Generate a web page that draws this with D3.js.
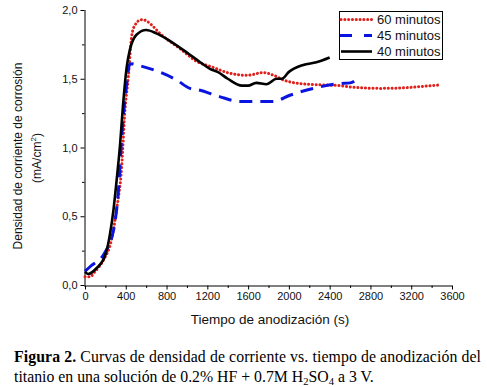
<!DOCTYPE html>
<html><head><meta charset="utf-8">
<script src="https://cdn.jsdelivr.net/npm/d3@7"></script>
<style>body{margin:0;background:#fff}svg{display:block}</style>
</head><body>
<svg id="c" width="487" height="387"></svg>
<script>
const seriesNames = ["60 minutos", "45 minutos", "40 minutos"];
const time60 = [0,50,100,180,260,310,360,392,425,458,490,555,605,655,735,930,1110,1230,1420,1590,1750,1850,1950,2110,2340,2500,2600,2900,3150,3350,3480];
const v60 = [0.06,0.06,0.10,0.18,0.33,0.55,0.86,1.27,1.51,1.81,1.89,1.93,1.92,1.89,1.83,1.72,1.62,1.59,1.54,1.525,1.545,1.525,1.49,1.465,1.455,1.45,1.44,1.43,1.435,1.447,1.455];
const time45 = [0,30,60,190,280,330,360,410,440,560,900,1030,1110,1320,1520,1850,2010,2240,2500,2600,2700];
const v45 = [0.10,0.12,0.14,0.23,0.40,0.71,1.08,1.47,1.61,1.59,1.49,1.43,1.42,1.37,1.335,1.335,1.38,1.43,1.465,1.47,1.52];
const time40 = [0,30,110,200,245,280,310,345,370,410,440,505,600,700,800,1000,1130,1230,1300,1400,1540,1600,1680,1780,1880,1930,2000,2140,2270,2400];
const v40 = [0.095,0.08,0.12,0.22,0.37,0.55,0.76,1.03,1.28,1.59,1.71,1.82,1.855,1.83,1.79,1.69,1.62,1.57,1.55,1.50,1.45,1.45,1.47,1.46,1.50,1.50,1.55,1.60,1.62,1.655];
const xTicks = [0,400,800,1200,1600,2000,2400,2800,3200,3600];
const yTicks = [0,0.5,1.0,1.5,2.0];
const xLabel = "Tiempo de anodización (s)";
const yLabel1 = "Densidad de corriente de corrosión";

const svg = d3.select("#c");
const x = d3.scaleLinear().domain([0,3600]).range([85,452]);
const y = d3.scaleLinear().domain([0,2]).range([285,10]);
const sans = "Liberation Sans, Arial, sans-serif";
const serif = "'Liberation Serif', 'Times New Roman', serif";

// axes
const xAxis = svg.append("g").attr("transform","translate(0,285.5)")
  .call(d3.axisBottom(x).tickValues(xTicks).tickSize(4).tickPadding(3).tickFormat(d3.format("d")));
const xMin = svg.append("g").attr("transform","translate(0,285.5)")
  .call(d3.axisBottom(x).tickValues(d3.range(200,3600,400)).tickSize(2.5).tickFormat(""));
const yAxis = svg.append("g").attr("transform","translate(84.5,0)")
  .call(d3.axisLeft(y).tickValues(yTicks).tickSize(4).tickPadding(3).tickFormat(d=>d3.format(".1f")(d).replace(".",",")));
const yMin = svg.append("g").attr("transform","translate(84.5,0)")
  .call(d3.axisLeft(y).tickValues([0.25,0.75,1.25,1.75]).tickSize(2.5).tickFormat(""));
xMin.select(".domain").remove();
yMin.select(".domain").remove();
xAxis.select(".domain").attr("d","M84,0.5H452").attr("stroke","#000");
yAxis.select(".domain").attr("d","M0.5,10V285").attr("stroke","#000");
svg.selectAll(".tick line").attr("stroke","#000");
svg.selectAll(".tick text").attr("font-family",sans).attr("font-size","11px").attr("fill","#111");

// lines
const line = d3.line().x(d=>x(d[0])).y(d=>y(d[1])).curve(d3.curveMonotoneX);
const data = [
  {name:seriesNames[0], pts:d3.zip(time60,v60), color:"#e0201c", w:3, dash:"0.1 3.7", cap:"round"},
  {name:seriesNames[1], pts:d3.zip(time45,v45), color:"#0a14e0", w:3, dash:"13 8", cap:"butt"},
  {name:seriesNames[2], pts:d3.zip(time40,v40), color:"#000", w:2.6, dash:null, cap:"butt"}
];
data.forEach(s=>{
  svg.append("path").attr("d",line(s.pts)).attr("fill","none").attr("stroke",s.color)
    .attr("stroke-width",s.w).attr("stroke-dasharray",s.dash).attr("stroke-linecap",s.cap).attr("stroke-linejoin","round");
});

// legend
const lg = svg.append("g");
lg.append("rect").attr("x",339.5).attr("y",11.5).attr("width",103).attr("height",48).attr("fill","#fff").attr("stroke","#000").attr("stroke-width",1);
data.forEach((s,i)=>{
  const yy = 19.5 + i*16;
  if(i===1){
    lg.append("line").attr("x1",340).attr("x2",352).attr("y1",yy).attr("y2",yy).attr("stroke",s.color).attr("stroke-width",s.w);
    lg.append("line").attr("x1",364).attr("x2",372).attr("y1",yy).attr("y2",yy).attr("stroke",s.color).attr("stroke-width",s.w);
  } else {
    lg.append("line").attr("x1",341).attr("x2",372).attr("y1",yy).attr("y2",yy).attr("stroke",s.color)
      .attr("stroke-width",s.w).attr("stroke-dasharray",s.dash).attr("stroke-linecap",s.cap);
  }
  lg.append("text").attr("x",377).attr("y",yy+4.5).text(s.name)
    .attr("font-family",sans).attr("font-size","13px").attr("fill","#111");
});

// axis titles
svg.append("text").attr("x",270).attr("y",324).attr("text-anchor","middle").text(xLabel)
  .attr("font-family",sans).attr("font-size","13.5px").attr("fill","#111");
svg.append("text").attr("transform","translate(22,156) rotate(-90)").attr("text-anchor","middle").text(yLabel1)
  .attr("font-family",sans).attr("font-size","12px").attr("fill","#111");
const yl2 = svg.append("text").attr("transform","translate(41,158) rotate(-90)").attr("text-anchor","middle")
  .attr("font-family",sans).attr("font-size","12px").attr("fill","#111");
yl2.append("tspan").text("(mA/cm");
yl2.append("tspan").attr("font-size","8px").attr("dy","-5").text("2");
yl2.append("tspan").attr("dy","5").text(")");

// caption
const cap1 = svg.append("text").attr("x",14).attr("y",362).attr("textLength",467).attr("lengthAdjust","spacing")
  .attr("font-family",serif).attr("font-size","15.8px").attr("fill","#000");
cap1.append("tspan").attr("font-weight","bold").text("Figura 2.");
cap1.append("tspan").text(" Curvas de densidad de corriente vs. tiempo de anodización del");
const cap2 = svg.append("text").attr("x",14).attr("y",382)
  .attr("font-family",serif).attr("font-size","15.8px").attr("fill","#000");
cap2.append("tspan").text("titanio en una solución de 0.2% HF + 0.7M H");
cap2.append("tspan").attr("font-size","10.5px").attr("dy","3").text("2");
cap2.append("tspan").attr("dy","-3").text("SO");
cap2.append("tspan").attr("font-size","10.5px").attr("dy","3").text("4");
cap2.append("tspan").attr("dy","-3").text(" a 3 V.");
</script>
</body></html>
